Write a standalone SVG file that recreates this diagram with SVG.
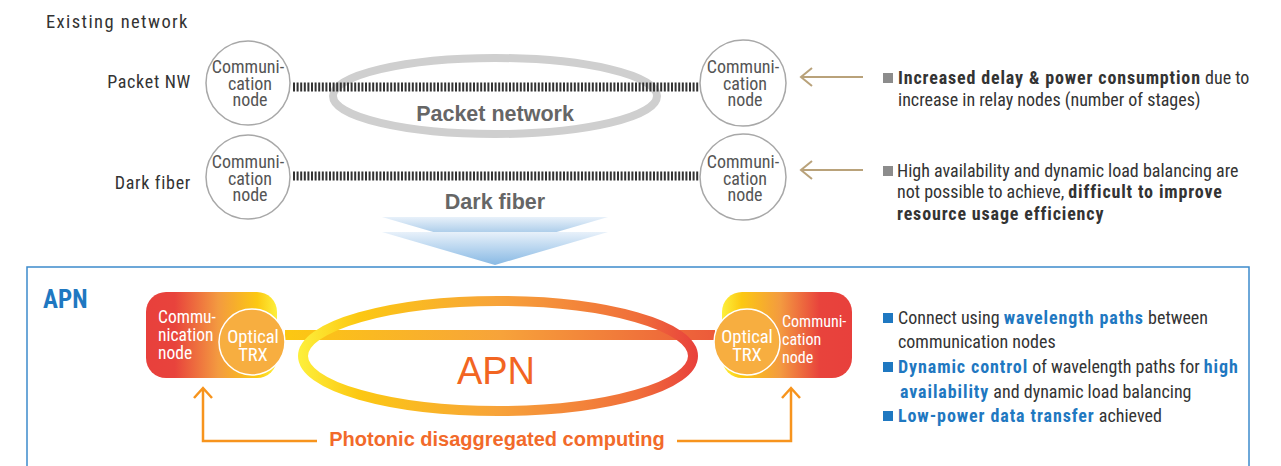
<svg xmlns="http://www.w3.org/2000/svg" width="1281" height="466" viewBox="0 0 1281 466">
  <defs>
    <style>
      .f { font-family: "Liberation Sans Narrow", "Roboto Condensed", "Liberation Sans", sans-serif; }
      .w { font-family: "Liberation Sans", Arial, sans-serif; }
      .gray-node { fill: #fff; stroke: #a8a8a8; stroke-width: 1.5; }
      .node-txt { font-size: 18px; fill: #555; text-anchor: middle; }
      .label { font-size: 18px; fill: #333; letter-spacing: 0.7px; }
      .desc { font-size: 18px; fill: #333; }
      .b { font-weight: bold; letter-spacing: 0.85px; }
      .blue { fill: #1f78c1; font-weight: bold; letter-spacing: 0.9px; }
      .fiber { stroke: #333; stroke-width: 9; stroke-dasharray: 2 1.6; fill: none; }
      .tan { stroke: #b9a27a; stroke-width: 2; fill: none; }
      .orange-line { stroke: #f7941d; stroke-width: 2.5; fill: none; }
      .white-txt { fill: #fff; font-size: 17.5px; }
      .white-sm { fill: #fff; font-size: 16px; }
      .trx { fill: #f7ae40; stroke: #fff; stroke-width: 1.5; }
      .trx-txt { fill: #fff; font-size: 18.5px; text-anchor: middle; }
    </style>
    <linearGradient id="nodeL" x1="146" y1="0" x2="277" y2="0" gradientUnits="userSpaceOnUse">
      <stop offset="0" stop-color="#e8403c"/>
      <stop offset="0.22" stop-color="#e8433c"/>
      <stop offset="0.55" stop-color="#f39a40"/>
      <stop offset="0.85" stop-color="#fcc812"/>
      <stop offset="1" stop-color="#fdf03c"/>
    </linearGradient>
    <linearGradient id="nodeR" x1="722" y1="0" x2="852" y2="0" gradientUnits="userSpaceOnUse">
      <stop offset="0" stop-color="#fdf03c"/>
      <stop offset="0.15" stop-color="#fcc812"/>
      <stop offset="0.45" stop-color="#f39a40"/>
      <stop offset="0.75" stop-color="#e8433c"/>
      <stop offset="1" stop-color="#e8403c"/>
    </linearGradient>
    <linearGradient id="link" x1="285" y1="0" x2="715" y2="0" gradientUnits="userSpaceOnUse">
      <stop offset="0" stop-color="#fcc812"/>
      <stop offset="0.5" stop-color="#f7a33a"/>
      <stop offset="1" stop-color="#ec5a3a"/>
    </linearGradient>
    <linearGradient id="ring" x1="298" y1="0" x2="698" y2="0" gradientUnits="userSpaceOnUse">
      <stop offset="0" stop-color="#fdf03c"/>
      <stop offset="0.15" stop-color="#fcc812"/>
      <stop offset="0.5" stop-color="#f7a33a"/>
      <stop offset="0.85" stop-color="#f06e3a"/>
      <stop offset="1" stop-color="#e8403c"/>
    </linearGradient>
    <linearGradient id="chev1" x1="0" y1="217" x2="0" y2="250" gradientUnits="userSpaceOnUse">
      <stop offset="0" stop-color="#e8f1fa"/>
      <stop offset="1" stop-color="#6aa5d8"/>
    </linearGradient>
    <linearGradient id="chev2" x1="0" y1="232" x2="0" y2="265" gradientUnits="userSpaceOnUse">
      <stop offset="0" stop-color="#e8f1fa"/>
      <stop offset="1" stop-color="#88b9e4"/>
    </linearGradient>
  </defs>

  <rect width="1281" height="466" fill="#fff"/>

  <!-- Existing network -->
  <text class="f" x="46" y="28" font-size="18.5" letter-spacing="1.4" fill="#333">Existing network</text>
  <text class="f label" x="191" y="88" text-anchor="end">Packet NW</text>
  <text class="f label" x="191" y="189" text-anchor="end">Dark fiber</text>

  <!-- packet network ring -->
  <ellipse cx="495" cy="96" rx="162" ry="38" fill="none" stroke="#cfcfcf" stroke-width="8"/>
  <text class="w" x="495" y="121" font-size="21.5" font-weight="bold" fill="#666" text-anchor="middle">Packet network</text>
  <text class="w" x="495" y="209" font-size="21.5" font-weight="bold" fill="#666" text-anchor="middle">Dark fiber</text>

  <!-- connectors -->
  <g id="connectors">
    <line class="fiber" x1="293" y1="87" x2="699" y2="87"/>
    <line class="fiber" x1="293" y1="176" x2="699" y2="176"/>
    <path class="tan" d="M863 77 H801 M812 68 L801 77 L812 86"/>
    <path class="tan" d="M863 170 H801 M812 161 L801 170 L812 179"/>
    <rect x="285" y="330" width="430" height="10" fill="url(#link)"/>
    <path class="orange-line" d="M317 441 H203 V388 M194 398 L203 388 L212 398"/>
    <path class="orange-line" d="M677 441 H791 V388 M782 398 L791 388 L800 398"/>
  </g>

  <g id="node-packet-left">
    <circle class="gray-node" cx="248" cy="83" r="42"/>
    <text class="f node-txt"><tspan x="248" y="73">Communi-</tspan><tspan x="250" dy="16.5">cation</tspan><tspan x="250" dy="16">node</tspan></text>
  </g>
  <g id="node-dark-left">
    <circle class="gray-node" cx="248" cy="177" r="42"/>
    <text class="f node-txt"><tspan x="248" y="168">Communi-</tspan><tspan x="250" dy="16.5">cation</tspan><tspan x="250" dy="16">node</tspan></text>
  </g>
  <g id="node-packet-right">
    <circle class="gray-node" cx="743" cy="83" r="43"/>
    <text class="f node-txt"><tspan x="743" y="73">Communi-</tspan><tspan x="745" dy="16.5">cation</tspan><tspan x="745" dy="16">node</tspan></text>
  </g>
  <g id="node-dark-right">
    <circle class="gray-node" cx="743" cy="177" r="43"/>
    <text class="f node-txt"><tspan x="743" y="168">Communi-</tspan><tspan x="745" dy="16.5">cation</tspan><tspan x="745" dy="16">node</tspan></text>
  </g>

  <!-- issues -->
  <rect x="883" y="73" width="10" height="10" fill="#8c8c8c"/>
  <text class="f desc" x="898" y="84"><tspan class="b">Increased delay &amp; power consumption</tspan> due to</text>
  <text class="f desc" x="898" y="106">increase in relay nodes (number of stages)</text>
  <rect x="883" y="166" width="10" height="10" fill="#8c8c8c"/>
  <text class="f desc" x="897" y="177">High availability and dynamic load balancing are</text>
  <text class="f desc" x="897" y="198">not possible to achieve, <tspan class="b">difficult to improve</tspan></text>
  <text class="f desc b" x="897" y="220">resource usage efficiency</text>

  <!-- transition chevrons -->
  <polygon points="382,217 608,217 495,250" fill="url(#chev1)"/>
  <polygon points="382,232 608,232 495,265" fill="url(#chev2)"/>

  <!-- APN panel -->
  <rect x="27" y="267" width="1222" height="220" fill="none" stroke="#3d8bcc" stroke-width="1.5"/>
  <text class="f" x="43" y="308" font-size="25" font-weight="bold" fill="#1f78c1">APN</text>

  <g id="apn-ring">
    <ellipse cx="498" cy="356" rx="195" ry="55" fill="none" stroke="url(#ring)" stroke-width="10"/>
    <text class="w" x="496" y="384" font-size="38" fill="#f26522" text-anchor="middle">APN</text>
  </g>

  <g id="node-apn-left">
    <rect x="146" y="292" width="131" height="86" rx="20" fill="url(#nodeL)"/>
    <text class="f white-txt"><tspan x="158" y="323">Commu-</tspan><tspan x="158" dy="18">nication</tspan><tspan x="158" dy="18">node</tspan></text>
    <circle class="trx" cx="252" cy="342" r="33"/>
    <text class="f trx-txt"><tspan x="253" y="343">Optical</tspan><tspan x="253" dy="18">TRX</tspan></text>
  </g>

  <g id="node-apn-right">
    <rect x="722" y="292" width="130" height="86" rx="20" fill="url(#nodeR)"/>
    <text class="f white-sm"><tspan x="782" y="327">Communi-</tspan><tspan x="782" dy="18">cation</tspan><tspan x="782" dy="18">node</tspan></text>
    <circle class="trx" cx="747" cy="342" r="33"/>
    <text class="f trx-txt"><tspan x="747" y="343">Optical</tspan><tspan x="747" dy="18">TRX</tspan></text>
  </g>

  <text class="w" x="497" y="446" font-size="20" font-weight="bold" fill="#f26a2a" text-anchor="middle">Photonic disaggregated computing</text>

  <!-- APN benefits -->
  <rect x="883" y="313" width="10" height="10" fill="#1f78c1"/>
  <text class="f desc" x="898" y="324">Connect using <tspan class="blue">wavelength paths</tspan> between</text>
  <text class="f desc" x="898" y="348">communication nodes</text>
  <rect x="883" y="362" width="10" height="10" fill="#1f78c1"/>
  <text class="f desc" x="898" y="373"><tspan class="blue">Dynamic control</tspan> of wavelength paths for <tspan class="blue">high</tspan></text>
  <text class="f desc" x="900" y="398"><tspan class="blue">availability</tspan> and dynamic load balancing</text>
  <rect x="883" y="411" width="10" height="10" fill="#1f78c1"/>
  <text class="f desc" x="898" y="422"><tspan class="blue">Low-power data transfer</tspan> achieved</text>
</svg>
